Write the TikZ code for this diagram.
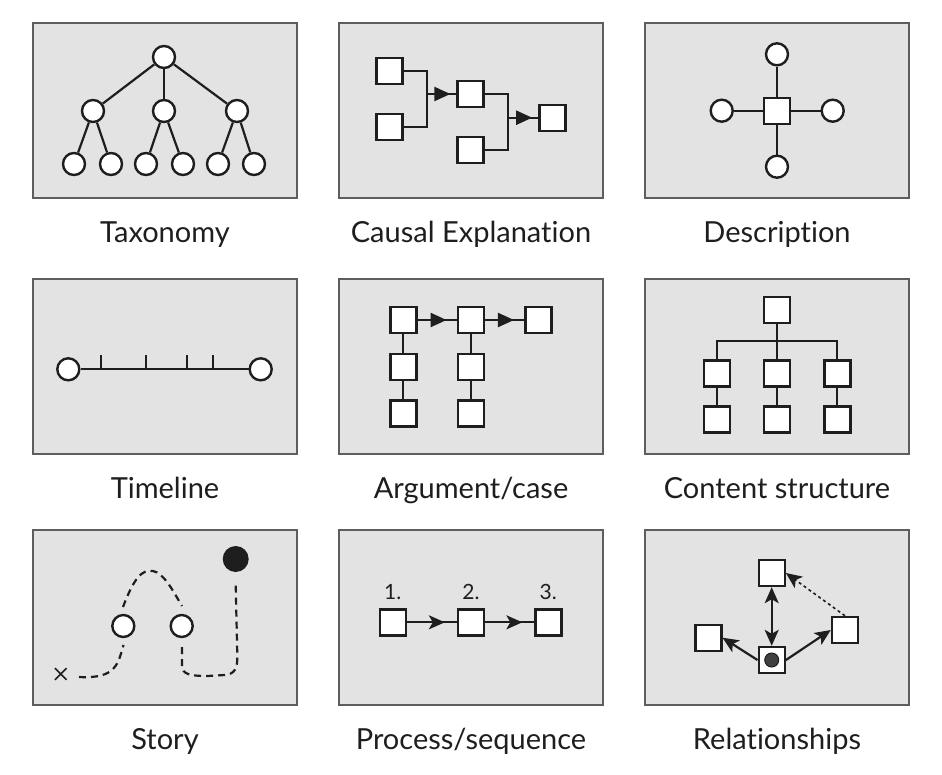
\documentclass[tikz,border=0pt]{standalone}
\usepackage{fontspec}
\setmainfont{Lato}[Ligatures=NoCommon]
\usetikzlibrary{arrows.meta,decorations.markings,shapes.misc}
\definecolor{panelfill}{HTML}{E3E3E3}
\definecolor{panelline}{HTML}{5E5E5E}
\definecolor{ink}{HTML}{1E1E1E}

\begin{document}
\begin{tikzpicture}[x=1pt,y=-1pt,
		panel/.style={draw=panelline, line width=2pt, fill=panelfill},
		dot/.style={circle, draw=ink, line width=2.4pt, fill=white, minimum size=22pt, inner sep=0pt},
		sq/.style={draw=ink, line width=2.4pt, fill=white, minimum size=26pt, inner sep=0pt},
		link/.style={draw=ink, line width=2.2pt},
		caption/.style={anchor=base, text=ink, font=\fontsize{29}{32}\selectfont},
		midtip/.style={postaction={decorate}, decoration={markings,
			mark=at position #1 with {\arrow{Triangle[length=16pt,width=14pt]}}}},
		steptip/.style={postaction={decorate}, decoration={markings,
			mark=at position #1 with {\arrow{Stealth[length=16pt,width=14pt,inset=4pt]}}}},
		rel/.style={draw=ink, line width=2.2pt, -{Stealth[length=16pt,width=14pt,inset=4pt]}},
		trail/.style={draw=ink, line width=2.2pt, dash pattern=on 7pt off 5pt}]
			\useasboundingbox (0,0) rectangle (942,774);
			\foreach \px in {33,339,645}
				\foreach \py in {23,279,530}
					\draw[panel] (\px,\py) rectangle ++(264,175);
			% taxonomy
			\node[dot] (root) at (164,57) {};
			\node[dot] (mid1) at (93,111) {};
			\node[dot] (mid2) at (164,111) {};
			\node[dot] (mid3) at (237,111) {};
			\foreach \n/\x in {1/74,2/111,3/146,4/183,5/218,6/254}
				\node[dot] (leaf\n) at (\x,164) {};
			\foreach \m in {1,2,3}
				\draw[link] (root) -- (mid\m);
			\draw[link] (mid1) -- (leaf1);
			\draw[link] (mid1) -- (leaf2);
			\draw[link] (mid2) -- (leaf3);
			\draw[link] (mid2) -- (leaf4);
			\draw[link] (mid3) -- (leaf5);
			\draw[link] (mid3) -- (leaf6);
			\node[caption] (taxlabel) at (165,242) {Taxonomy};
			% causal explanation
			\node[sq] (cause1) at (389.5,70.7) {};
			\node[sq] (cause2) at (389.5,126.7) {};
			\node[sq] (effect1) at (470.5,94) {};
			\node[sq] (cause3) at (470.5,150) {};
			\node[sq] (effect2) at (552.5,117.7) {};
			\coordinate (join1) at (426.7,94);
			\coordinate (join2) at (507.7,117.7);
			\draw[link] (cause1) -| (join1) |- (cause2);
			\draw[link] (effect1) -| (join2) |- (cause3);
			\draw[link, midtip=0.8] (join1) -- (effect1);
			\draw[link, midtip=0.8] (join2) -- (effect2);
			\node[caption] (causallabel) at (471,242) {Causal Explanation};
			% description
			\node[sq] (item) at (777,110.7) {};
			\node[dot] (attrN) at (777,54.3) {};
			\node[dot] (attrS) at (777,166.7) {};
			\node[dot] (attrW) at (721.7,110.7) {};
			\node[dot] (attrE) at (832.7,110.7) {};
			\foreach \a in {N,S,W,E}
				\draw[link] (item) -- (attr\a);
			\node[caption] (desclabel) at (777,242) {Description};
			% timeline
			\node[dot] (tstart) at (68.3,369.3) {};
			\node[dot] (tend) at (260.7,369.3) {};
			\draw[link] (tstart) -- (tend);
			\foreach \x in {101,146,187,213}
				\draw[link] (\x,369.3) -- ++(0,-14);
			\node[caption] (timelabel) at (165,498) {Timeline};
			% argument/case
			\node[sq] (claim1) at (403.3,320) {};
			\node[sq] (claim2) at (471,320) {};
			\node[sq] (claim3) at (538.3,320) {};
			\node[sq] (proof1a) at (403.3,366.7) {};
			\node[sq] (proof1b) at (403.3,413.3) {};
			\node[sq] (proof2a) at (471,366.7) {};
			\node[sq] (proof2b) at (471,413.3) {};
			\draw[link, midtip=0.74] (claim1) -- (claim2);
			\draw[link, midtip=0.74] (claim2) -- (claim3);
			\draw[link] (claim1) -- (proof1a) -- (proof1b);
			\draw[link] (claim2) -- (proof2a) -- (proof2b);
			\node[caption] (arglabel) at (471,498) {Argument/case};
			% content structure
			\node[sq] (top) at (776.7,310) {};
			\coordinate (bus) at (776.7,341);
			\foreach \c/\x in {1/716.7,2/776.7,3/837.3} {
				\node[sq] (sec\c) at (\x,373.3) {};
				\node[sq] (sub\c) at (\x,419.3) {};
				\draw[link] (sec\c) -- (sub\c);
			}
			\draw[link] (top) -- (sec2);
			\draw[link] (sec1) |- (bus) -| (sec3);
			\node[caption] (contentlabel) at (777,498) {Content structure};
			% story
			\node[cross out, draw=ink, line width=1.6pt, minimum size=10pt, inner sep=0pt] (begin) at (60.7,674) {};
			\node[dot] (event1) at (123.3,626) {};
			\node[dot] (event2) at (181.7,626) {};
			\node[circle, fill=ink, minimum size=26pt, inner sep=0pt] (goal) at (235.7,559) {};
			\draw[trail] (79,677) .. controls (116,679) and (118,664) .. (123.5,645);
			\draw[trail] (123,607) .. controls (134,578) and (142,569) .. (153,571)
				.. controls (164,573) and (173,591) .. (182,606);
			\draw[trail] (182,647) -- (182,666) .. controls (182,674) and (190,676) .. (207,676)
				-- (225,675) .. controls (235,674) and (237.5,668) .. (237.3,656) -- (235.7,584);
			\node[caption] (storylabel) at (165,749) {Story};
			% process/sequence
			\node[sq] (stage1) at (392.7,622.3) {};
			\node[sq] (stage2) at (471,622.3) {};
			\node[sq] (stage3) at (548.3,622.3) {};
			\foreach \s in {1,2,3}
				\node[text=ink, font=\fontsize{21}{24}\selectfont, above=5pt] (num\s) at (stage\s.north) {\s.};
			\draw[link, line width=1.8pt, steptip=0.76] (stage1) -- (stage2);
			\draw[link, line width=1.8pt, steptip=0.76] (stage2) -- (stage3);
			\node[caption] (proclabel) at (471,749) {Process/sequence};
			% relationships
			\node[sq] (hub) at (771.7,660) {};
			\node[circle, draw=ink, fill=ink!85, line width=1pt, minimum size=14pt, inner sep=0pt] (hubdot) at (hub) {};
			\node[sq] (partA) at (771.7,573) {};
			\node[sq] (partB) at (708.3,637.7) {};
			\node[sq] (partC) at (845,630) {};
			\draw[rel, {Stealth[length=16pt,width=14pt,inset=4pt]}-{Stealth[length=16pt,width=14pt,inset=4pt]}] (hub) -- (partA);
			\draw[rel] (hub.west) -- (partB.east);
			\draw[rel] (hub.east) -- (partC.west);
			\draw[rel, line width=1.6pt, dash pattern=on 3pt off 3pt] (partC.north) -- (partA.east);
			\node[caption] (rellabel) at (777,749) {Relationships};
\end{tikzpicture}
\end{document}
